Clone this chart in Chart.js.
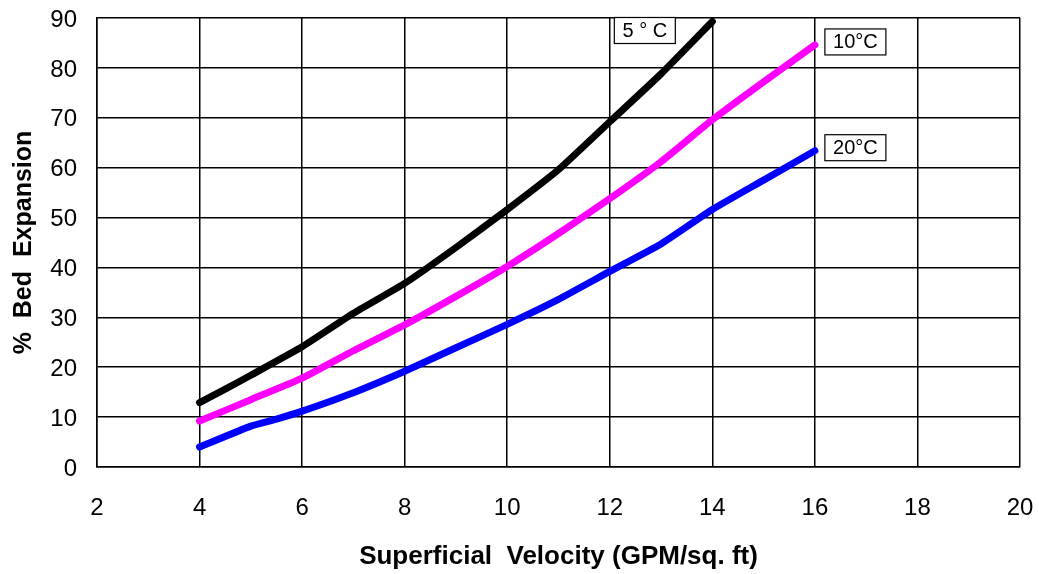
<!DOCTYPE html>
<html>
<head>
<meta charset="utf-8">
<script src="https://cdn.jsdelivr.net/npm/chart.js@4/dist/chart.umd.min.js"></script>
<style>
  html, body { margin: 0; padding: 0; background: #fff; }
  #wrap { width: 1039px; height: 574px; }
</style>
</head>
<body>
<div id="wrap"><canvas id="c" width="1039" height="574"></canvas></div>
<script>
// Superficial velocity (GPM/sq. ft) for each curve
const velocity5C  = [4, 4.5, 5, 6, 7, 8, 9, 10, 11, 12, 13, 14];
const velocity10C = [4, 5, 6, 7, 8, 9, 10, 11, 12, 13, 14, 15, 16];
const velocity20C = [4, 5, 5.5, 6, 7, 8, 9, 10, 11, 12, 13, 14, 15, 16];

// % bed expansion readings
const expansion5C  = [12.9, 15.6, 18.4, 24.1, 30.8, 36.8, 44.0, 51.6, 59.6, 69.2, 78.8, 89.3];
const expansion10C = [9.2, 13.5, 17.8, 23.3, 28.5, 34.2, 40.2, 46.8, 53.8, 61.2, 69.6, 77.2, 84.6];
const expansion20C = [4.0, 8.2, 9.6, 11.2, 14.9, 19.2, 23.9, 28.6, 33.6, 39.2, 44.7, 51.6, 57.5, 63.4];

const seriesNames = ['5\u00B0C', '10\u00B0C', '20\u00B0C'];
const boxLabels = ['5 \u00B0 C', '10\u00B0C', '20\u00B0C'];

const xTicks = [2, 4, 6, 8, 10, 12, 14, 16, 18, 20];
const yTicks = [0, 10, 20, 30, 40, 50, 60, 70, 80, 90];

const FONT = '"Liberation Sans", Arial, sans-serif';

const toPoints = (xs, ys) => xs.map((x, i) => ({ x: x, y: ys[i] }));

// Boxed curve labels, positioned from each curve's last point
const curveLabels = {
  id: 'curveLabels',
  afterDatasetsDraw(chart) {
    const ctx = chart.ctx;
    const xs = chart.scales.x, ys = chart.scales.y;
    ctx.save();
    ctx.font = '20px ' + FONT;
    ctx.textBaseline = 'middle';
    ctx.textAlign = 'center';
    chart.data.datasets.forEach((ds, i) => {
      const last = ds.data[ds.data.length - 1];
      const px = xs.getPixelForValue(last.x);
      const py = ys.getPixelForValue(last.y);
      const w = 61, h = 26;
      let left, top;
      if (i === 0) {
        left = px - 98; top = ys.getPixelForValue(90) - 0.5;
      } else {
        left = px + 10; top = py - h / 2 - 3;
      }
      ctx.fillStyle = '#fff';
      ctx.fillRect(left, top, w, h);
      ctx.strokeStyle = '#000';
      ctx.lineWidth = 1.2;
      ctx.strokeRect(left, top, w, h);
      ctx.fillStyle = '#000';
      ctx.fillText(boxLabels[i], left + w / 2, top + h / 2 + 1);
    });
    ctx.restore();
  }
};

const lineStyle = (color) => ({
  borderColor: color,
  backgroundColor: color,
  borderWidth: 7,
  borderCapStyle: 'round',
  borderJoinStyle: 'round',
  pointRadius: 0,
  tension: 0.15,
  fill: false
});

const noOverflow = (scale) => {
  scale.paddingLeft = 0; scale.paddingRight = 0;
  scale.paddingTop = 0; scale.paddingBottom = 0;
};

new Chart(document.getElementById('c'), {
  type: 'line',
  data: {
    datasets: [
      Object.assign({ label: seriesNames[0], data: toPoints(velocity5C, expansion5C) }, lineStyle('#000000')),
      Object.assign({ label: seriesNames[1], data: toPoints(velocity10C, expansion10C) }, lineStyle('#FF00FF')),
      Object.assign({ label: seriesNames[2], data: toPoints(velocity20C, expansion20C) }, lineStyle('#0000FF'))
    ]
  },
  options: {
    responsive: false,
    animation: false,
    layout: { padding: { top: 18, right: 19, left: 0, bottom: 0 } },
    plugins: { legend: { display: false }, tooltip: { enabled: false } },
    scales: {
      x: {
        type: 'linear',
        min: 2, max: 20,
        afterBuildTicks(scale) { scale.ticks = xTicks.map(v => ({ value: v })); },
        afterFit(scale) { scale.height = 107; noOverflow(scale); },
        grid: { color: '#000', lineWidth: 1.5, drawTicks: false },
        border: { color: '#000', width: 1.5 },
        ticks: {
          color: '#000',
          padding: 27,
          maxRotation: 0,
          font: { family: FONT, size: 24 }
        },
        title: {
          display: true,
          text: 'Superficial  Velocity (GPM/sq. ft)',
          color: '#000',
          padding: { top: 0, bottom: 2 },
          font: { family: FONT, size: 26, weight: 'bold' }
        }
      },
      y: {
        type: 'linear',
        min: 0, max: 90,
        afterBuildTicks(scale) { scale.ticks = yTicks.map(v => ({ value: v })); },
        afterFit(scale) { scale.width = 97; noOverflow(scale); },
        grid: { color: '#000', lineWidth: 1.5, drawTicks: false },
        border: { color: '#000', width: 1.5 },
        ticks: {
          color: '#000',
          padding: 20,
          labelOffset: 2,
          font: { family: FONT, size: 24 }
        },
        title: {
          display: true,
          text: '%  Bed  Expansion',
          color: '#000',
          padding: { top: 9, bottom: 0 },
          font: { family: FONT, size: 25, weight: 'bold' }
        }
      }
    }
  },
  plugins: [curveLabels]
});
</script>
</body>
</html>
